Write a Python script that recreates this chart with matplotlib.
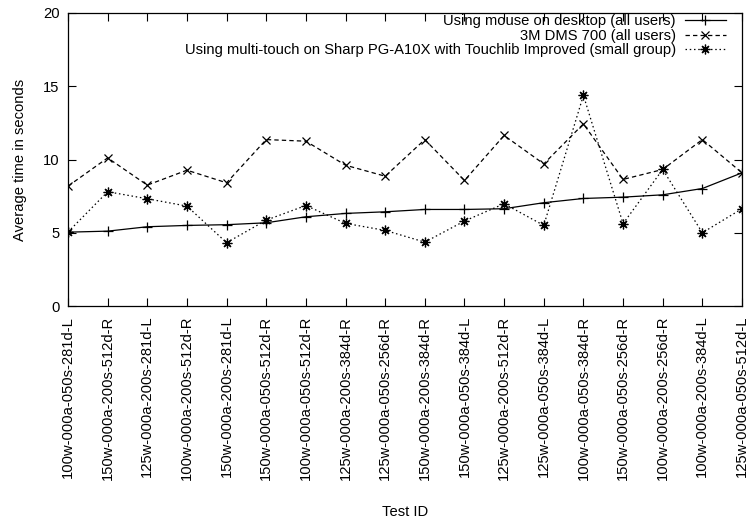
import matplotlib
matplotlib.use("Agg")
import matplotlib.pyplot as plt

plt.rcParams['font.family'] = ['Liberation Sans', 'DejaVu Sans']

test_ids = [
    "100w-000a-050s-281d-L", "150w-000a-200s-512d-R", "125w-000a-200s-281d-L",
    "100w-000a-200s-512d-R", "150w-000a-200s-281d-L", "150w-000a-050s-512d-R",
    "100w-000a-050s-512d-R", "125w-000a-200s-384d-R", "125w-000a-050s-256d-R",
    "150w-000a-200s-384d-R", "150w-000a-050s-384d-L", "125w-000a-200s-512d-R",
    "125w-000a-050s-384d-L", "100w-000a-050s-384d-R", "150w-000a-050s-256d-R",
    "100w-000a-200s-256d-R", "100w-000a-200s-384d-L", "125w-000a-050s-512d-L",
]

mouse_desktop = [5.04, 5.11, 5.41, 5.50, 5.55, 5.68, 6.09, 6.32, 6.43,
                 6.59, 6.59, 6.64, 7.05, 7.34, 7.43, 7.59, 8.02, 9.09]
dms_700 = [8.18, 10.11, 8.25, 9.27, 8.41, 11.36, 11.25, 9.61, 8.86,
           11.36, 8.57, 11.64, 9.70, 12.43, 8.64, 9.32, 11.36, 9.09]
multitouch = [5.05, 7.80, 7.32, 6.82, 4.32, 5.86, 6.86, 5.64, 5.16,
              4.36, 5.80, 6.98, 5.50, 14.38, 5.62, 9.32, 5.00, 6.64]

series_labels = [
    "Using mouse on desktop (all users)",
    "3M DMS 700 (all users)",
    "Using multi-touch on Sharp PG-A10X with Touchlib Improved (small group)",
]

W, H = 748, 521
L, R, T, B = 68, 742, 13, 306
fig = plt.figure(figsize=(W / 100, H / 100), dpi=100)
ax = fig.add_axes([L / W, (H - B) / H, (R - L) / W, (B - T) / H])

x = list(range(len(test_ids)))
fs = 10.6
ax.plot(x, mouse_desktop, color='black', lw=0.9, ls='-', marker='+',
        ms=7, mew=0.9, label=series_labels[0])
ax.plot(x, dms_700, color='black', lw=0.9, ls=(0, (3.5, 2.5)), marker='x',
        ms=6, mew=0.9, label=series_labels[1])
ax.plot(x, multitouch, color='black', lw=0.9, ls=(0, (1.2, 2.2)),
        marker=(8, 2, 0), ms=7, mew=0.9, label=series_labels[2])

ax.set_xlim(0, len(test_ids) - 1)
ax.set_ylim(0, 20)
ax.set_yticks([0, 5, 10, 15, 20])
ax.set_xticks(x)
ax.set_xticklabels(test_ids, rotation=90, fontsize=fs)
ax.tick_params(axis='both', direction='in', length=6, width=0.8,
               top=True, right=True, labelsize=fs)
ax.tick_params(axis='y', pad=6)
ax.tick_params(axis='x', pad=7)
for sp in ax.spines.values():
    sp.set_linewidth(0.9)

ax.set_ylabel("Average time in seconds", fontsize=fs)
ax.yaxis.set_label_coords((20 - L) / (R - L), 0.5)
ax.set_xlabel("Test ID", fontsize=fs)
ax.xaxis.set_label_coords(0.5, -(512 - B) / (B - T))
ax.xaxis.label.set_va('center')
ax.yaxis.label.set_va('center')

ax.legend(loc='upper right',
          bbox_to_anchor=((726 - L) / (R - L), 1 - (14 - T) / (B - T)),
          frameon=False, markerfirst=False, fontsize=fs, handlelength=2.8,
          handletextpad=0.6, labelspacing=0.05, borderaxespad=0,
          borderpad=0)

fig.savefig("out.png", dpi=100)
